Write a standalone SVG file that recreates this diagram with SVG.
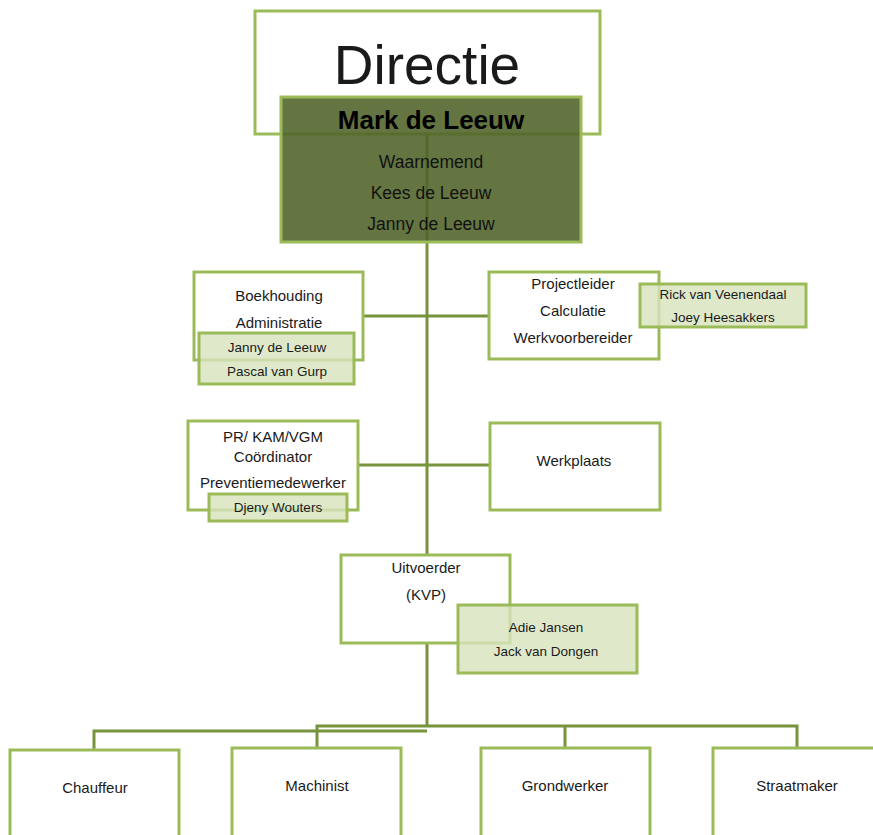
<svg xmlns="http://www.w3.org/2000/svg" width="873" height="835" viewBox="0 0 873 835">
<style>
.box{fill:#ffffff;stroke:#9bbb59;stroke-width:3}
.sub{fill:#d7e4bd;fill-opacity:0.8;stroke:#9bbb59;stroke-width:3}
.conn{fill:none;stroke:#77933c;stroke-width:3}
text{font-family:"Liberation Sans",Arial,sans-serif;fill:#1a1a1a;text-anchor:middle}
.m{font-size:15px}
.s{font-size:13.5px}
.b{font-size:15px}
</style>
<rect width="873" height="835" fill="#ffffff"/>
<g id="connectors">
<path class="conn" d="M427,134 V555 M427,643 V727"/>
<path class="conn" d="M363,316 H489"/>
<path class="conn" d="M358,465 H490"/>
<path class="conn" d="M94,750 V731 H427 M317,748 V726 H797 V748 M565,726 V748"/>
</g>
<g id="directie">
<rect class="box" x="255" y="11" width="345" height="123"/>
<text x="427" y="84" style="font-size:55px">Directie</text>
</g>
<g id="mark">
<rect x="281" y="97" width="300" height="145" fill="#4f6228" fill-opacity="0.88" stroke="#9bbb59" stroke-width="3"/>
<text x="431" y="129" style="font-size:26px;font-weight:bold;fill:#000">Mark de Leeuw</text>
<text x="431" y="168" style="font-size:17.5px;fill:#111">Waarnemend</text>
<text x="431" y="199" style="font-size:17.5px;fill:#111">Kees de Leeuw</text>
<text x="431" y="230" style="font-size:17.5px;fill:#111">Janny de Leeuw</text>
</g>
<g id="boekhouding">
<rect class="box" x="194" y="272" width="169" height="88"/>
<text class="m" x="279" y="301">Boekhouding</text>
<text class="m" x="279" y="328">Administratie</text>
</g>
<g id="boekhouding-namen">
<rect class="sub" x="199" y="333" width="155" height="51"/>
<text class="s" x="277" y="352">Janny de Leeuw</text>
<text class="s" x="277" y="376">Pascal van Gurp</text>
</g>
<g id="projectleider">
<rect class="box" x="489" y="272" width="170" height="87"/>
<text class="m" x="573" y="289">Projectleider</text>
<text class="m" x="573" y="316">Calculatie</text>
<text class="m" x="573" y="343">Werkvoorbereider</text>
</g>
<g id="projectleider-namen">
<rect class="sub" x="640" y="284" width="166" height="43"/>
<text class="s" x="723" y="299">Rick van Veenendaal</text>
<text class="s" x="723" y="322">Joey Heesakkers</text>
</g>
<g id="pr">
<rect class="box" x="188" y="421" width="170" height="89"/>
<text class="m" x="273" y="442">PR/ KAM/VGM</text>
<text class="m" x="273" y="462">Coördinator</text>
<text class="m" x="273" y="488">Preventiemedewerker</text>
</g>
<g id="pr-namen">
<rect class="sub" x="209" y="494" width="138" height="27"/>
<text class="s" x="278" y="512">Djeny Wouters</text>
</g>
<g id="werkplaats">
<rect class="box" x="490" y="423" width="170" height="87"/>
<text class="m" x="574" y="466">Werkplaats</text>
</g>
<g id="uitvoerder">
<rect class="box" x="341" y="555" width="169" height="88"/>
<text class="m" x="426" y="573">Uitvoerder</text>
<text class="m" x="426" y="600">(KVP)</text>
</g>
<g id="uitvoerder-namen">
<rect class="sub" x="458" y="605" width="179" height="68"/>
<text class="s" x="546" y="632">Adie Jansen</text>
<text class="s" x="546" y="656">Jack van Dongen</text>
</g>
<g id="chauffeur">
<rect class="box" x="10" y="750" width="169" height="95"/>
<text class="b" x="95" y="793">Chauffeur</text>
</g>
<g id="machinist">
<rect class="box" x="232" y="748" width="169" height="97"/>
<text class="b" x="317" y="791">Machinist</text>
</g>
<g id="grondwerker">
<rect class="box" x="481" y="748" width="169" height="97"/>
<text class="b" x="565" y="791">Grondwerker</text>
</g>
<g id="straatmaker">
<rect class="box" x="713" y="748" width="175" height="97"/>
<text class="b" x="797" y="791">Straatmaker</text>
</g>
</svg>
